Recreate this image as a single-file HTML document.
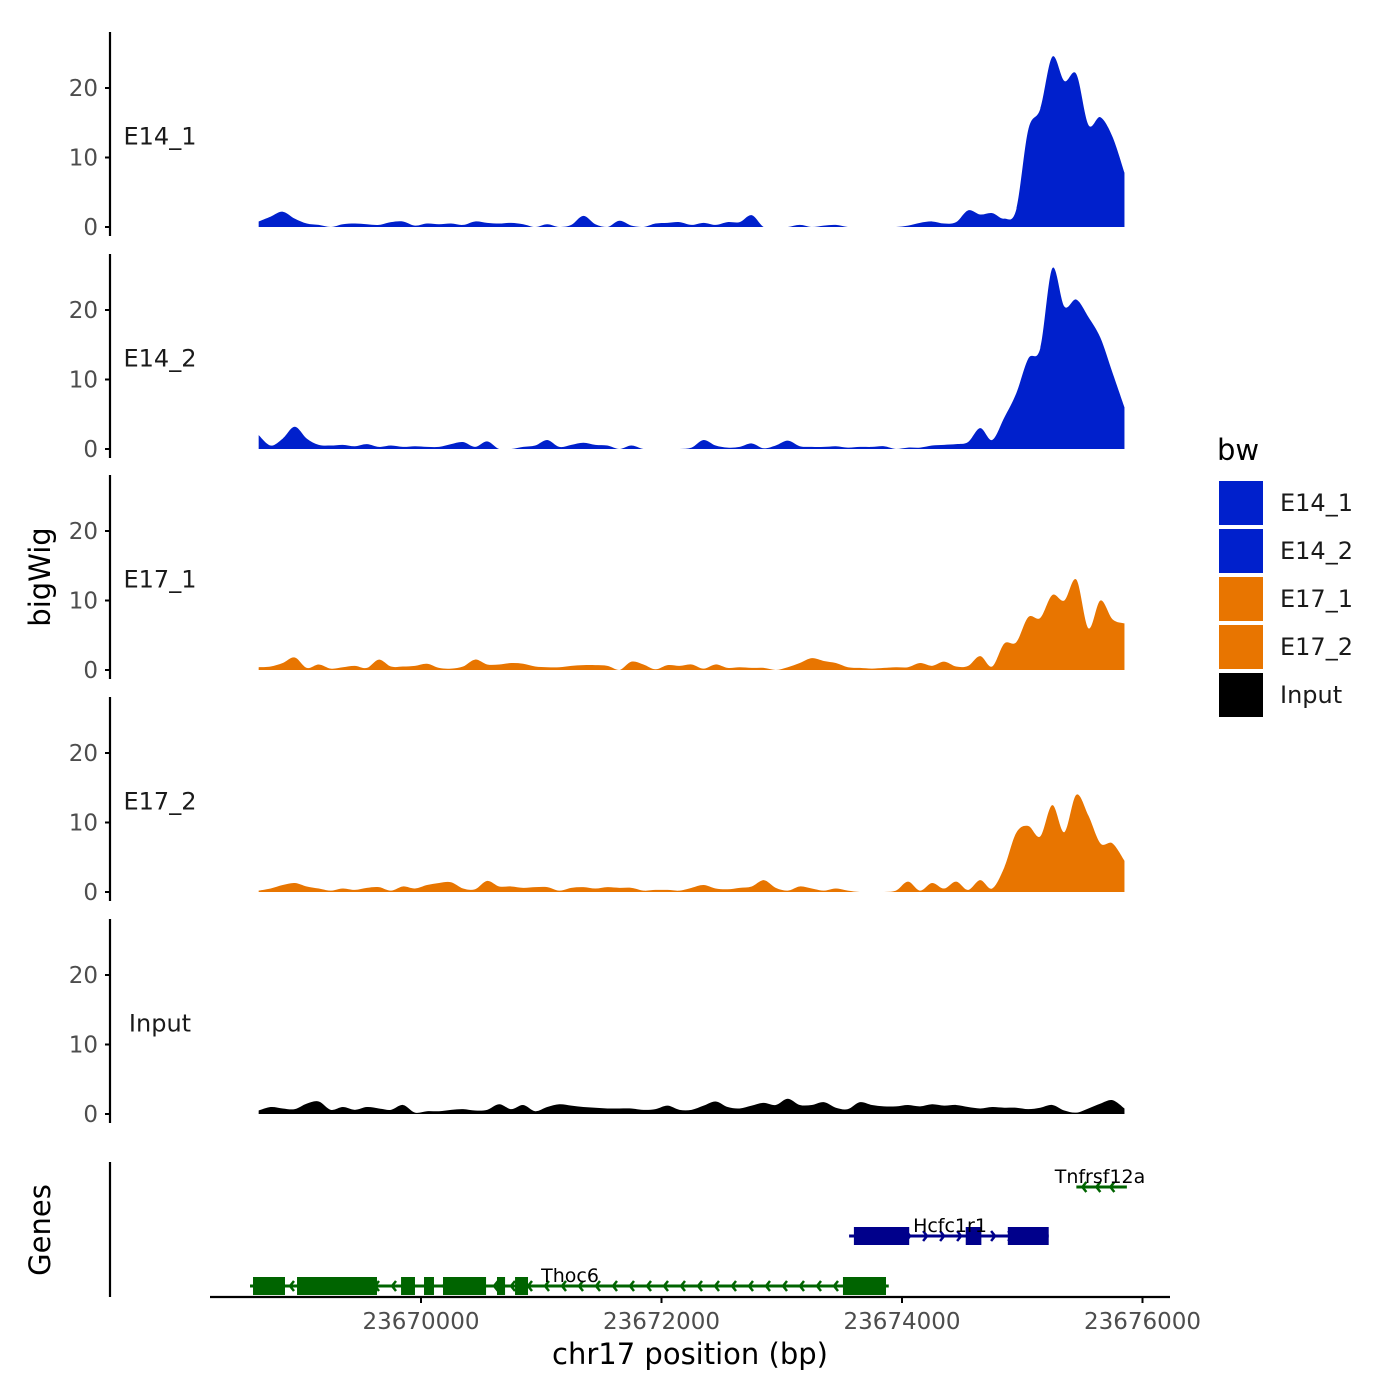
<!DOCTYPE html>
<html><head><meta charset="utf-8"><style>
html,body{margin:0;padding:0;background:#fff;}
svg{display:block;font-family:"DejaVu Sans","Liberation Sans",sans-serif;}
</style></head><body>
<svg id="chart" width="1400" height="1400" viewBox="0 0 1400 1400" xmlns="http://www.w3.org/2000/svg">
<g id="tracks"></g>
<g id="genes"></g>
<g id="axes"></g>
<text x="42" y="577" transform="rotate(-90 42 577)" text-anchor="middle" dominant-baseline="middle" font-size="29">bigWig</text>
<text x="42" y="1230" transform="rotate(-90 42 1230)" text-anchor="middle" dominant-baseline="middle" font-size="29">Genes</text>
<text x="690" y="1364" text-anchor="middle" font-size="29">chr17 position (bp)</text>
<g id="legend">
<text x="1217" y="460" font-size="29">bw</text>
</g>
</svg>
<script>
const startBp = 23668650;
const stepBp = 100;
const seriesNames = ["E14_1","E14_2","E17_1","E17_2","Input"];
const seriesColors = ["#0020CC","#0020CC","#E87500","#E87500","#000000"];
const e14_1 = [0.8,1.5,2.2,1.2,0.5,0.3,0,0.4,0.5,0.4,0.3,0.7,0.8,0.2,0.5,0.4,0.5,0.3,0.8,0.6,0.5,0.6,0.4,0,0.4,0,0.3,1.6,0.4,0,0.9,0.2,0,0.5,0.6,0.7,0.3,0.6,0.3,0.7,0.7,1.7,0,0,0,0.3,0,0.2,0.3,0,0,0,0,0,0.2,0.6,0.8,0.5,0.7,2.4,1.8,2.0,1.2,2.5,14,17,24.5,21,22,14.7,15.8,13,7.8];
const e14_2 = [2,0.5,1.5,3.2,1.5,0.6,0.5,0.6,0.4,0.7,0.3,0.5,0.3,0.4,0.3,0.3,0.7,1.0,0.3,1.1,0,0,0.3,0.5,1.3,0.3,0.6,0.9,0.6,0.5,0,0.5,0,0,0,0,0.2,1.3,0.5,0.2,0.3,0.8,0.1,0.5,1.2,0.4,0.3,0.3,0.4,0.2,0.3,0.3,0.4,0,0.2,0.2,0.5,0.6,0.7,1.0,3,1.3,4.5,8,13,14.5,26,20.5,21.5,19,16,11,6];
const e17_1 = [0.4,0.5,1.0,1.8,0.3,0.8,0.2,0.4,0.6,0.3,1.5,0.5,0.5,0.6,0.9,0.3,0.2,0.5,1.5,0.8,0.8,1.0,0.9,0.5,0.4,0.4,0.6,0.7,0.7,0.6,0,1.2,0.8,0.1,0.7,0.6,0.8,0.2,0.8,0.3,0.4,0.3,0.3,0,0.4,1.0,1.7,1.3,1.0,0.4,0.3,0.2,0.3,0.4,0.4,1.0,0.6,1.2,0.5,0.6,2.0,0.5,3.8,4.0,7.6,7.5,10.8,10,13,6,10,7.3,6.7];
const e17_2 = [0.2,0.5,1.0,1.3,0.8,0.5,0.2,0.5,0.3,0.6,0.7,0.2,0.8,0.5,1.0,1.3,1.4,0.5,0.4,1.6,0.8,0.8,0.6,0.7,0.7,0.2,0.6,0.7,0.5,0.7,0.6,0.6,0.2,0.3,0.3,0.2,0.6,1.0,0.5,0.4,0.6,0.8,1.7,0.6,0.2,0.8,0.5,0.2,0.5,0.2,0,0,0,0.2,1.5,0.2,1.3,0.5,1.5,0.3,1.7,0.5,3.5,8.5,9.5,8,12.5,8.6,14,11,7,7,4.5];
const input = [0.5,1.0,0.8,0.7,1.5,1.8,0.6,1.0,0.6,1.0,0.8,0.6,1.3,0.2,0.4,0.4,0.6,0.7,0.5,0.6,1.4,0.7,1.3,0.4,1.0,1.4,1.2,1.0,0.9,0.8,0.8,0.8,0.6,0.7,1.2,0.6,0.6,1.2,1.8,1.0,0.8,1.2,1.6,1.3,2.2,1.3,1.3,1.7,0.9,0.7,1.7,1.3,1.1,1.1,1.3,1.1,1.4,1.2,1.3,1.0,0.8,1.0,0.9,0.9,0.7,0.9,1.3,0.5,0.2,0.8,1.5,2.0,0.8];
const yTicks = [0,10,20];
const xTicks = [23670000,23672000,23674000,23676000];
const xTickLabels = ["23670000","23672000","23674000","23676000"];
const thoc6Exons = [[23668603,23668869],[23668969,23669634],[23669834,23669950],[23670025,23670108],[23670183,23670541],[23670632,23670699],[23670782,23670890],[23673509,23673867]];
const hcfc1r1Exons = [[23673600,23674060],[23674530,23674660],[23674880,23675220]];
const thoc6Range = [23668578,23673890];
const hcfc1r1Range = [23673560,23675220];
const tnfRange = [23675450,23675870];

const NS="http://www.w3.org/2000/svg";
function mk(tag, attrs, parent){const e=document.createElementNS(NS,tag);for(const k in attrs)e.setAttribute(k,attrs[k]);parent.appendChild(e);return e;}
function xScale(bp){return 421 + (bp-23670000)*(240.5/2000);}
const pxPerUnit = 6.95;
const baselines = [227,449,670,892,1114];
function yScale(v,p){return baselines[p]-v*pxPerUnit;}

const tracks=document.getElementById('tracks');
const axes=document.getElementById('axes');
const allSeries=[e14_1,e14_2,e17_1,e17_2,input];
allSeries.forEach((vals,p)=>{
  const pts=vals.map((v,i)=>[xScale(startBp+i*stepBp), yScale(v,p)]);
  const b=baselines[p];
  let d=`M${pts[0][0]},${b} L${pts[0][0]},${pts[0][1]}`;
  for(let i=0;i<pts.length-1;i++){
    const p0=pts[Math.max(0,i-1)],p1=pts[i],p2=pts[i+1],p3=pts[Math.min(pts.length-1,i+2)];
    let c1y=p1[1]+(p2[1]-p0[1])/6, c2y=p2[1]-(p3[1]-p1[1])/6;
    c1y=Math.min(c1y,b); c2y=Math.min(c2y,b);
    d+=` C${p1[0]+(p2[0]-p0[0])/6},${c1y} ${p2[0]-(p3[0]-p1[0])/6},${c2y} ${p2[0]},${p2[1]}`;
  }
  d+=` L${pts[pts.length-1][0]},${b} Z`;
  const path=mk('path',{d:d,fill:seriesColors[p]},tracks);
  
  
  const al=mk('line',{x1:110,x2:110,y1:b-195,y2:b+9,stroke:'#000','stroke-width':2.2},axes);
  
  
  yTicks.forEach(t=>{
    const y=yScale(t,p);
    const tk=mk('line',{x1:105,x2:110,y1:y,y2:y,stroke:'#000','stroke-width':2},axes);
    
    
    const tl=mk('text',{x:98,y:y+8,'text-anchor':'end','font-size':23,fill:'#4d4d4d'},axes);
    tl.textContent=t;
    
    
  });
  const lab=mk('text',{x:160,y:yScale(13,p)+8,'text-anchor':'middle','font-size':24,fill:'#1a1a1a'},axes);
  lab.textContent=seriesNames[p];
  
  
});
let gl=mk('line',{x1:110,x2:110,y1:1162,y2:1297,stroke:'#000','stroke-width':2.2},axes);


let xl=mk('line',{x1:210,x2:1170,y1:1297,y2:1297,stroke:'#000','stroke-width':2.2},axes);


xTicks.forEach((t,i)=>{
  const x=xScale(t);
  const tk=mk('line',{x1:x,x2:x,y1:1297,y2:1303,stroke:'#000','stroke-width':2},axes);
  
  
  const tl=mk('text',{x:x,y:1329,'text-anchor':'middle','font-size':23,fill:'#4d4d4d'},axes);
  tl.textContent=xTickLabels[i];
  
  
});
const genes=document.getElementById('genes');
function drawGene(name,range,exons,yc,color,minus,labelX,spacing){
  const g=mk('g',{},genes);
  
  
  const x0=xScale(range[0]),x1=xScale(range[1]);
  mk('line',{x1:x0,x2:x1,y1:yc,y2:yc,stroke:color,'stroke-width':3},g);
  for(let x=x0+6;x<x1-4;x+=spacing){
    const pts=minus?`${x+4},${yc-5} ${x},${yc} ${x+4},${yc+5}`:`${x},${yc-5} ${x+4},${yc} ${x},${yc+5}`;
    mk('polyline',{points:pts,fill:'none',stroke:color,'stroke-width':2.5},g);
  }
  exons.forEach(e=>{
    const r=mk('rect',{x:xScale(e[0]),y:yc-9,width:xScale(e[1])-xScale(e[0]),height:18,fill:color},g);
    
    
  });
  const t=mk('text',{x:labelX,y:yc-4,'text-anchor':'middle','font-size':19,fill:'#000'},g);
  t.textContent=name;
  
  
}
drawGene('Thoc6',thoc6Range,thoc6Exons,1286,'#006400',true,570,17);
drawGene('Hcfc1r1',hcfc1r1Range,hcfc1r1Exons,1236,'#00008B',false,950,17);
drawGene('Tnfrsf12a',tnfRange,[],1187,'#006400',true,1100,14);
const legend=document.getElementById('legend');
seriesNames.forEach((n,i)=>{
  const y=480+i*48;
  const r=mk('rect',{x:1218,y:y,width:46,height:46,fill:seriesColors[i],stroke:'#fff','stroke-width':2},legend);
  
  
  const t=mk('text',{x:1280,y:y+31,'font-size':24,fill:'#1a1a1a'},legend);
  t.textContent=n;
  
  
});
</script>
</body></html>
